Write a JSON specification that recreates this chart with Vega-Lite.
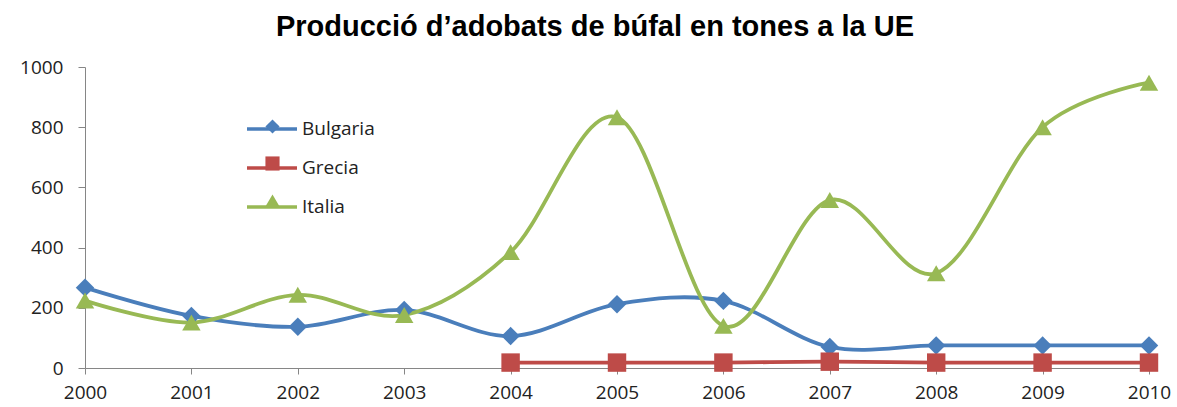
{
  "$schema": "https://vega.github.io/schema/vega-lite/v6.json",
  "width": 1064,
  "height": 301,
  "autosize": {"type": "none"},
  "padding": {"left": 85, "top": 67, "right": 28, "bottom": 39},
  "background": "white",
  "title": {
    "text": "Producció d’adobats de búfal en tones a la UE",
    "font": "Liberation Sans",
    "fontSize": 29,
    "fontWeight": "bold",
    "color": "#000000",
    "anchor": "middle",
    "dx": -22,
    "offset": 16
  },
  "config": {"view": {"stroke": null}},
  "data": {
    "values": [
      {"country": "Bulgaria", "year": 2000, "value": 267},
      {"country": "Bulgaria", "year": 2001, "value": 173},
      {"country": "Bulgaria", "year": 2002, "value": 137},
      {"country": "Bulgaria", "year": 2003, "value": 193},
      {"country": "Bulgaria", "year": 2004, "value": 106},
      {"country": "Bulgaria", "year": 2005, "value": 212},
      {"country": "Bulgaria", "year": 2006, "value": 223},
      {"country": "Bulgaria", "year": 2007, "value": 70},
      {"country": "Bulgaria", "year": 2008, "value": 75},
      {"country": "Bulgaria", "year": 2009, "value": 75},
      {"country": "Bulgaria", "year": 2010, "value": 75},
      {"country": "Grecia", "year": 2004, "value": 18},
      {"country": "Grecia", "year": 2005, "value": 18},
      {"country": "Grecia", "year": 2006, "value": 18},
      {"country": "Grecia", "year": 2007, "value": 21},
      {"country": "Grecia", "year": 2008, "value": 18},
      {"country": "Grecia", "year": 2009, "value": 18},
      {"country": "Grecia", "year": 2010, "value": 18},
      {"country": "Italia", "year": 2000, "value": 224},
      {"country": "Italia", "year": 2001, "value": 151},
      {"country": "Italia", "year": 2002, "value": 243},
      {"country": "Italia", "year": 2003, "value": 176},
      {"country": "Italia", "year": 2004, "value": 385},
      {"country": "Italia", "year": 2005, "value": 833},
      {"country": "Italia", "year": 2006, "value": 140},
      {"country": "Italia", "year": 2007, "value": 558},
      {"country": "Italia", "year": 2008, "value": 315},
      {"country": "Italia", "year": 2009, "value": 800},
      {"country": "Italia", "year": 2010, "value": 948}
    ]
  },
  "encoding": {
    "x": {
      "field": "year",
      "type": "quantitative",
      "scale": {"domain": [2000, 2010], "nice": false, "zero": false},
      "axis": {
        "title": null,
        "values": [2000, 2001, 2002, 2003, 2004, 2005, 2006, 2007, 2008, 2009, 2010],
        "format": "d",
        "grid": false,
        "domainColor": "#868686",
        "domainWidth": 1,
        "tickColor": "#868686",
        "tickSize": 6,
        "labelPadding": 9,
        "labelFont": "Open Sans",
        "labelFontSize": 19,
        "labelColor": "#222222",
        "labelFlush": false,
        "labelOverlap": false
      }
    },
    "y": {
      "field": "value",
      "type": "quantitative",
      "scale": {"domain": [0, 1000], "nice": false},
      "axis": {
        "title": null,
        "values": [0, 200, 400, 600, 800, 1000],
        "format": "d",
        "grid": false,
        "domainColor": "#868686",
        "domainWidth": 1,
        "tickColor": "#868686",
        "tickSize": 7,
        "labelPadding": 15,
        "labelFont": "Open Sans",
        "labelFontSize": 19,
        "labelColor": "#222222",
        "labelOverlap": false
      }
    }
  },
  "layer": [
    {
      "mark": {"type": "line", "interpolate": "cardinal", "tension": 0, "strokeWidth": 3.8},
      "encoding": {
        "stroke": {
          "field": "country",
          "type": "nominal",
          "scale": {"range": ["#4A7EBB", "#BE4B48", "#98B954"]},
          "legend": {
            "title": null,
            "orient": "none",
            "legendX": 175,
            "legendY": 50,
            "padding": 0,
            "symbolType": "M-2.5,0H2.5",
            "symbolSize": 400,
            "symbolStrokeWidth": 3.5,
            "labelOffset": 18,
            "rowPadding": 17,
            "labelFont": "Open Sans",
            "labelFontSize": 19,
            "labelColor": "#222222"
          }
        }
      }
    },
    {
      "mark": {"type": "point", "filled": true, "opacity": 1, "strokeWidth": 0, "size": 340},
      "encoding": {
        "fill": {
          "field": "country",
          "type": "nominal",
          "scale": {"domain": ["Bulgaria", "Grecia", "Italia"], "range": ["#4A7EBB", "#BE4B48", "#98B954"]},
          "legend": {
            "title": null,
            "orient": "none",
            "legendX": 178,
            "legendY": 50,
            "padding": 0,
            "symbolSize": 200,
            "symbolStrokeWidth": 0,
            "symbolOpacity": 1,
            "labelOffset": 18,
            "rowPadding": 17,
            "labelFont": "Open Sans",
            "labelFontSize": 19,
            "labelExpr": "' '"
          }
        },
        "shape": {
          "field": "country",
          "type": "nominal",
          "scale": {"domain": ["Bulgaria", "Grecia", "Italia"], "range": ["diamond", "square", "triangle-up"]},
          "legend": {
            "title": null,
            "orient": "none",
            "legendX": 178,
            "legendY": 50,
            "padding": 0,
            "symbolSize": 200,
            "symbolStrokeWidth": 0,
            "symbolOpacity": 1,
            "labelOffset": 18,
            "rowPadding": 17,
            "labelFont": "Open Sans",
            "labelFontSize": 19,
            "labelExpr": "' '"
          }
        }
      }
    }
  ]
}
